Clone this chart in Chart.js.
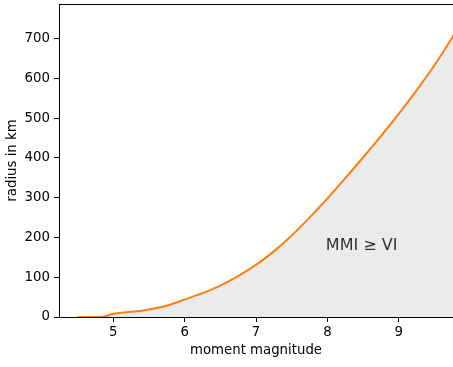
<!DOCTYPE html>
<html>
<head>
<meta charset="utf-8">
<script src="https://cdn.jsdelivr.net/npm/chart.js@4/dist/chart.umd.min.js"></script>
<style>
  html, body { margin: 0; padding: 0; background: #ffffff; }
  #wrap { width: 453px; height: 367px; }
</style>
</head>
<body>
<div id="wrap"><canvas id="c" width="453" height="367"></canvas></div>
<script>
// moment magnitude (x) and radius in km (y)
const magnitudes = [4.5, 4.84, 5.0, 5.25, 5.5, 5.75, 6.0, 6.25, 6.5, 6.75, 7.0, 7.25, 7.5, 7.75, 8.0, 8.25, 8.5, 8.75, 9.0, 9.25, 9.5, 9.75, 9.8];
const radiiKm    = [0,   0,    8,   13,   19,  28.5, 44,  60,   79,  103,  131, 165,  205, 250,  298, 349,  401, 455,  511, 570,  633, 703,  718];
const xTickValues = [5, 6, 7, 8, 9];
const yTickValues = [0, 100, 200, 300, 400, 500, 600, 700];
const xLabel = 'moment magnitude';
const yLabel = 'radius in km';
const annotationText = 'MMI \u2265 VI';
const annotationAt = { x: 8.48, y: 178 };

const points = magnitudes.map((m, i) => ({ x: m, y: radiiKm[i] }));
const font = { family: '"DejaVu Sans", sans-serif', size: 13.3 };

const extras = {
  id: 'extras',
  afterDatasetsDraw(chart) {
    const ctx = chart.ctx;
    const a = chart.chartArea;
    ctx.save();
    ctx.strokeStyle = '#000';
    ctx.lineWidth = 1;
    ctx.beginPath();
    ctx.moveTo(a.left, Math.round(a.top) + 0.5);
    ctx.lineTo(a.right, Math.round(a.top) + 0.5);
    ctx.stroke();
    const px = chart.scales.x.getPixelForValue(annotationAt.x);
    const py = chart.scales.y.getPixelForValue(annotationAt.y);
    ctx.fillStyle = '#333';
    ctx.font = '16px "DejaVu Sans", sans-serif';
    ctx.textAlign = 'center';
    ctx.textBaseline = 'middle';
    ctx.fillText(annotationText, px, py);
    ctx.restore();
  }
};

new Chart(document.getElementById('c'), {
  type: 'line',
  data: {
    datasets: [{
      data: points,
      borderColor: '#ff7f0e',
      borderWidth: 2,
      backgroundColor: '#ebebeb',
      fill: 'origin',
      pointRadius: 0,
      cubicInterpolationMode: 'monotone'
    }]
  },
  options: {
    responsive: false,
    animation: false,
    layout: { padding: { top: 4, right: 0, left: 0, bottom: 0 } },
    plugins: { legend: { display: false }, tooltip: { enabled: false } },
    scales: {
      x: {
        type: 'linear',
        min: 4.24,
        max: 9.76,
        afterFit(s) { s.height = 50; s.paddingLeft = 0; s.paddingRight = 0; },
        afterBuildTicks(s) { s.ticks = xTickValues.map(v => ({ value: v })); },
        ticks: { font, color: '#000', padding: 3, maxRotation: 0 },
        grid: { drawOnChartArea: false, drawTicks: true, tickLength: 5, color: '#000', lineWidth: 1 },
        border: { display: true, color: '#000', width: 1 },
        title: { display: true, text: xLabel, font, color: '#000', padding: { top: 0, bottom: 8 } }
      },
      y: {
        type: 'linear',
        min: 0,
        max: 787,
        afterFit(s) { s.width = 59; s.paddingTop = 0; s.paddingBottom = 0; },
        afterBuildTicks(s) { s.ticks = yTickValues.map(v => ({ value: v })); },
        ticks: { font, color: '#000', padding: 4 },
        grid: { drawOnChartArea: false, drawTicks: true, tickLength: 5, color: '#000', lineWidth: 1 },
        border: { display: true, color: '#000', width: 1 },
        title: { display: true, text: yLabel, font, color: '#000', padding: { top: 5, bottom: 0 } }
      }
    }
  },
  plugins: [extras]
});
</script>
</body>
</html>
